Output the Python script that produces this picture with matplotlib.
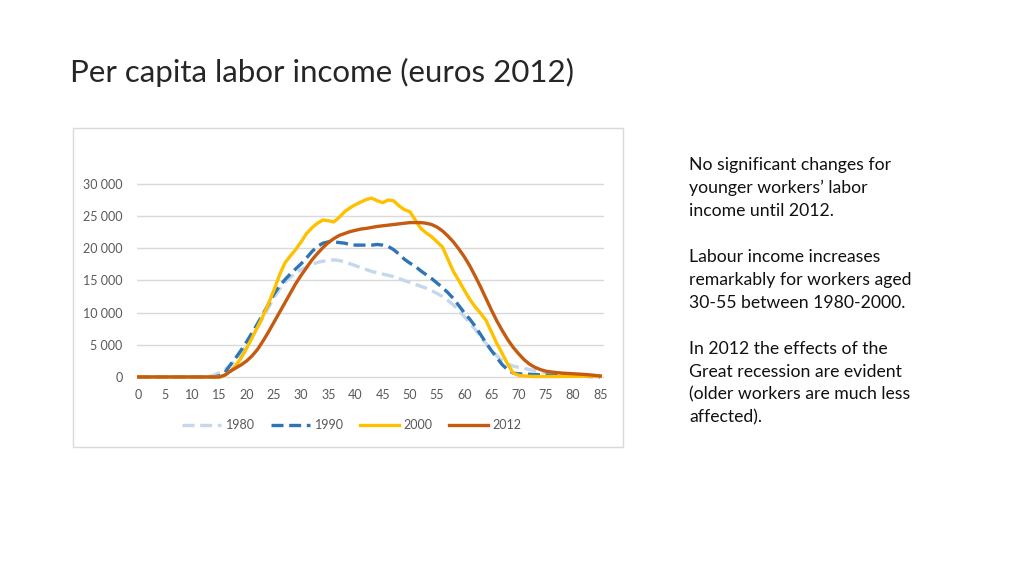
import matplotlib
matplotlib.use("Agg")
import matplotlib.pyplot as plt
from matplotlib.patches import Rectangle
from matplotlib.ticker import FuncFormatter

plt.rcParams['font.family'] = ['Lato', 'DejaVu Sans']

# per capita labor income by age, euros 2012
ages = list(range(86))

income_1980 = [0] * 13 + [
    50, 300, 700, 1200, 1800, 2700, 3800, 5000, 6300, 7700,
    9200, 10800, 12300, 13600, 14700, 15500, 16100, 16700, 17100, 17500,
    17800, 18000, 18100, 18200, 18100, 17900, 17600, 17300, 17000, 16700,
    16400, 16200, 16000, 15800, 15600, 15300, 15000, 14700, 14400, 14100,
    13800, 13400, 13000, 12500, 11900, 11200, 10300, 9400, 8400, 7400,
    6300, 5200, 4200, 3300, 2500, 2000, 1700, 1500, 1350, 1150,
    1000, 850, 700, 600, 500, 420, 350, 300, 250, 200,
    150, 100, 80]

income_1990 = [0] * 15 + [
    200, 700, 1900, 3000, 4200, 5500, 6900, 8300, 9800, 11300,
    12900, 14100, 15100, 16000, 16800, 17600, 18500, 19500, 20300, 20800,
    21000, 21000, 20900, 20800, 20600, 20500, 20500, 20500, 20500, 20600,
    20500, 20300, 19800, 19100, 18300, 17700, 17200, 16500, 15900, 15300,
    14600, 13900, 13100, 12200, 11100, 10000, 9000, 7900, 6600, 5300,
    4100, 3000, 1900, 1100, 600, 500, 450, 420, 380, 340,
    300, 280, 250, 220, 200, 170, 140, 110, 80, 50,
    30]

income_2000 = [0] * 16 + [
    300, 900, 1800, 3000, 4500, 6100, 7800, 9500, 11400, 13500,
    15800, 17700, 18800, 19800, 21000, 22300, 23200, 23900, 24400, 24300,
    24100, 24800, 25700, 26300, 26800, 27200, 27600, 27800, 27400, 27100,
    27500, 27400, 26600, 26000, 25700, 24400, 23100, 22400, 21800, 21000,
    20200, 18300, 16400, 15000, 13500, 12100, 10900, 9900, 8800, 7000,
    5200, 3600, 2000, 600, 250, 150, 100, 80, 80, 80,
    80, 80, 90, 90, 100, 100, 100, 110, 110, 120]

income_2012 = [0] * 16 + [
    300, 900, 1400, 1900, 2500, 3300, 4300, 5600, 7000, 8500,
    10000, 11500, 13000, 14500, 15800, 17000, 18200, 19200, 20100, 20900,
    21500, 22000, 22300, 22600, 22800, 23000, 23100, 23250, 23400, 23500,
    23600, 23700, 23800, 23900, 24000, 24000, 24000, 23900, 23700, 23300,
    22700, 21900, 21000, 19900, 18700, 17300, 15700, 14000, 12200, 10400,
    8700, 7200, 5800, 4600, 3600, 2700, 2000, 1500, 1150, 900,
    780, 680, 600, 550, 500, 450, 400, 330, 250, 150]

series_labels = ['1980', '1990', '2000', '2012']
x_ticks = list(range(0, 86, 5))
y_ticks = [0, 5000, 10000, 15000, 20000, 25000, 30000]

title = 'Per capita labor income (euros 2012)'
notes = ("No significant changes for\n"
         "younger workers\u2019 labor\n"
         "income until 2012.\n"
         "\n"
         "Labour income increases\n"
         "remarkably for workers aged\n"
         "30-55 between 1980-2000.\n"
         "\n"
         "In 2012 the effects of the\n"
         "Great recession are evident\n"
         "(older workers are much less\n"
         "affected).")

fig = plt.figure(figsize=(10.24, 5.76), dpi=100)
fig.patch.set_facecolor('white')

# chart frame
fig.patches.append(Rectangle((73 / 1024, 1 - 447 / 576), 550 / 1024, 319 / 576,
                             transform=fig.transFigure, facecolor='none',
                             edgecolor='#d9d9d9', linewidth=1))

ax = fig.add_axes([137 / 1024, 0.3422, 467 / 1024, 0.3417])

ax.plot(ages, income_1980, color='#c5d7ec', lw=2.4, dashes=(3.6, 1.7), label=series_labels[0])
ax.plot(ages, income_1990, color='#2e75b6', lw=2.4, dashes=(3.6, 1.7), label=series_labels[1])
ax.plot(ages, income_2000, color='#ffc000', lw=2.4, label=series_labels[2])
ax.plot(ages, income_2012, color='#c55a11', lw=2.4, label=series_labels[3])

ax.set_xlim(-0.18, 85.7)
ax.set_ylim(-300, 30300)
ax.set_xticks(x_ticks)
ax.set_yticks(y_ticks)
ax.yaxis.set_major_formatter(FuncFormatter(lambda v, p: f"{int(v):,}".replace(',', ' ')))
ax.grid(axis='y', color='#d9d9d9', lw=1)
ax.set_axisbelow(True)
for s in ax.spines.values():
    s.set_visible(False)
ax.tick_params(length=0, labelsize=9, colors='#595959')
ax.tick_params(axis='y', pad=10.5)
ax.tick_params(axis='x', pad=7)

leg = ax.legend(loc='center', bbox_to_anchor=(0.46, -0.236), ncol=4, frameon=False,
                fontsize=9, handlelength=3.1, columnspacing=1.3, handletextpad=0.4)
for t in leg.get_texts():
    t.set_color('#595959')

fig.text(70 / 1024, 1 - 72 / 576, title, fontsize=22.5, fontweight='normal',
         color='#262626', va='center', ha='left')
fig.text(689 / 1024, 1 - 157 / 576, notes, fontsize=12.7, color='#111111',
         va='top', ha='left', linespacing=1.53)

fig.savefig('out.png', dpi=100)
